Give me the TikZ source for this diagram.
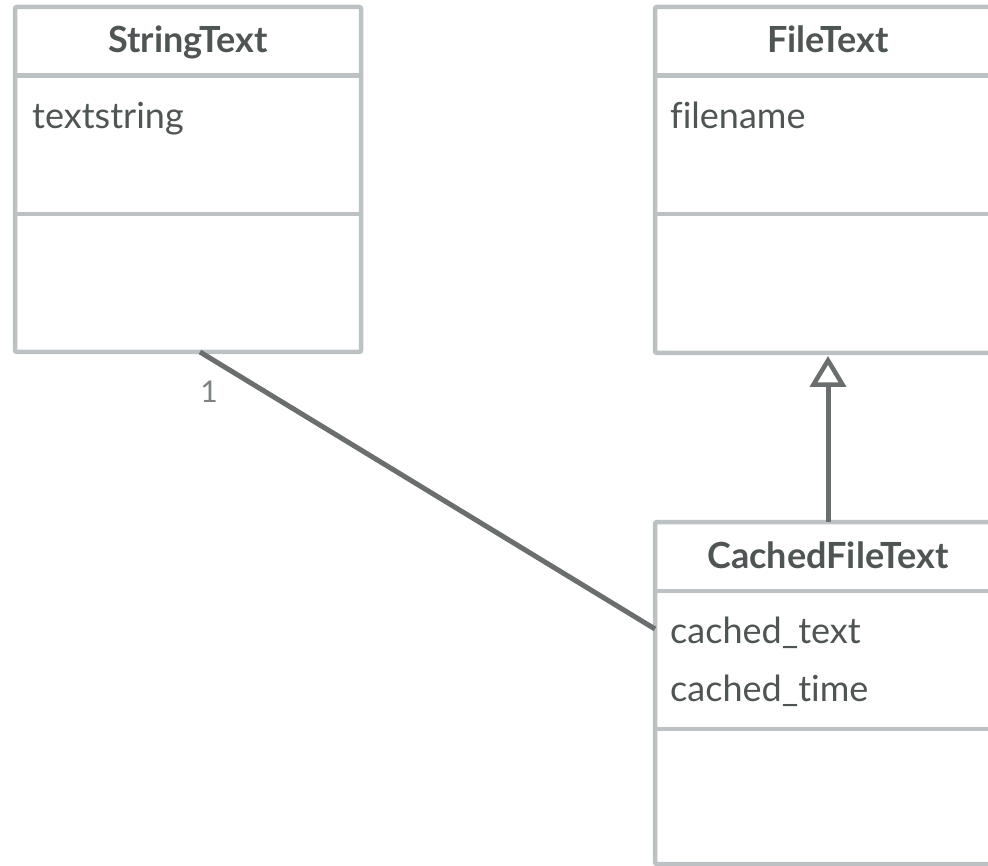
\documentclass[tikz,border=0pt]{standalone}
\usepackage{fontspec}
\setmainfont{Lato}[Ligatures={NoCommon}]
\usetikzlibrary{arrows.meta}
\definecolor{boxline}{HTML}{BCC2C4}
\definecolor{linkline}{HTML}{6A6E6E}
\definecolor{ink}{HTML}{4E5554}
\definecolor{mult}{HTML}{7D8282}
\tikzset{
  classbox/.style={draw=boxline, line width=4.5pt, fill=white, rounded corners=2pt,
    minimum width=346pt, inner sep=0pt, outer sep=0pt, anchor=north west},
  compline/.style={draw=boxline, line width=4.5pt},
  classname/.style={font=\fontsize{36}{40}\selectfont\bfseries, text=ink, anchor=base},
  attr/.style={font=\fontsize{36}{40}\selectfont, text=ink, anchor=base west, inner sep=0pt},
  assoc/.style={draw=linkline, line width=5pt},
  generalize/.style={draw=linkline, line width=5pt,
    -{Triangle[open, length=31pt, width=36pt, line width=4.5pt]}},
  multlabel/.style={font=\fontsize{30}{34}\selectfont, text=mult, anchor=center}
}
\begin{document}
\begin{tikzpicture}[x=1pt, y=-1pt]
\useasboundingbox (0,0) rectangle (988,866);
\clip (0,0) rectangle (988,866);
\fill[white] (0,0) rectangle (988,866);

% StringText
\node[classbox, minimum height=345pt] (st) at (15,7) {};
\draw[compline] (st.west |- 0,75.5) -- (st.east |- 0,75.5);
\draw[compline] (st.west |- 0,214) -- (st.east |- 0,214);
\node[classname] (stname) at (188,53) {StringText};
\node[attr] (sta) at (32,129) {textstring};

% FileText
\node[classbox, minimum height=346pt] (ft) at (655,7) {};
\draw[compline] (ft.west |- 0,75.5) -- (ft.east |- 0,75.5);
\draw[compline] (ft.west |- 0,214) -- (ft.east |- 0,214);
\node[classname] (ftname) at (828,53) {FileText};
\node[attr] (fta) at (670,129) {filename};

% CachedFileText
\node[classbox, minimum height=342pt] (cft) at (655,522) {};
\draw[compline] (cft.west |- 0,591) -- (cft.east |- 0,591);
\draw[compline] (cft.west |- 0,729) -- (cft.east |- 0,729);
\node[classname] (cftname) at (828,568) {CachedFileText};
\node[attr] (cfta) at (670,643) {cached\_text};
\node[attr] (cftb) at (670,701) {cached\_time};

% association StringText -- CachedFileText
\coordinate (assocA) at (200,352);
\coordinate (assocB) at (655,629);
\draw[assoc] (assocA) -- (assocB);
\node[multlabel] (m1) at (209,392) {1};

% generalization CachedFileText -> FileText
\draw[generalize, shorten >=3pt] (cft.north -| 828,0) -- (ft.south -| 828,0);
\end{tikzpicture}
\end{document}
